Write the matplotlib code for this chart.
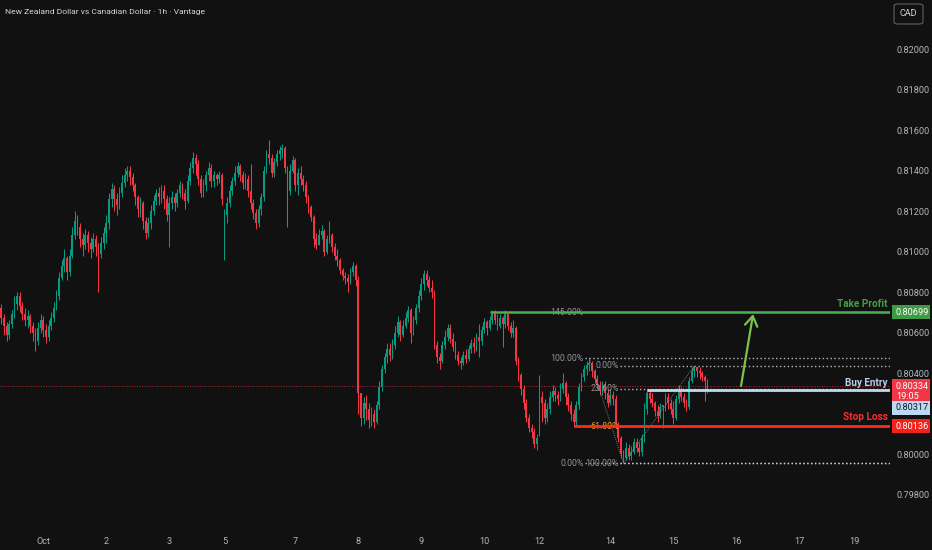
import matplotlib
matplotlib.use("Agg")
import matplotlib.pyplot as plt
import matplotlib.transforms as mtransforms
from matplotlib.patches import Rectangle, FancyBboxPatch
from matplotlib import font_manager as fm

# ---------------- data ----------------
title = "New Zealand Dollar vs Canadian Dollar · 1h · Vantage"

opens = [
 0.8072,0.8067,0.8063,0.8059,0.8064,0.8069,0.8074,0.8078,0.8073,0.8069,
 0.8066,0.8068,0.8063,0.8060,0.8056,0.8062,0.8066,0.8061,0.8058,0.8063,
 0.8067,0.8072,0.8078,0.8087,0.8093,0.8097,0.8090,0.8098,0.8108,0.8115,
 0.8112,0.8106,0.8103,0.8108,0.8104,0.8101,0.8106,0.8102,0.8099,0.8104,
 0.8109,0.8114,0.8126,0.8131,0.8126,0.8123,0.8129,0.8134,0.8138,0.8140,
 0.8137,0.8133,0.8127,0.8121,0.8124,0.8115,0.8109,0.8114,0.8120,0.8125,
 0.8129,0.8127,0.8130,0.8126,0.8118,0.8124,0.8127,0.8124,0.8129,0.8133,
 0.8129,0.8125,0.8135,0.8141,0.8146,0.8143,0.8136,0.8129,0.8133,0.8138,
 0.8141,0.8135,0.8138,0.8136,0.8138,0.8108,0.8118,0.8124,0.8130,0.8135,
 0.8139,0.8142,0.8138,0.8134,0.8136,0.8130,0.8124,0.8119,0.8114,0.8121,
 0.8127,0.8140,0.8148,0.8146,0.8139,0.8144,0.8148,0.8150,0.8151,0.8141,
 0.8130,0.8140,0.8145,0.8133,0.8139,0.8136,0.8133,0.8127,0.8122,0.8117,
 0.8106,0.8103,0.8108,0.8110,0.8100,0.8106,0.8108,0.8102,0.8098,0.8096,
 0.8091,0.8088,0.8087,0.8085,0.8090,0.8093,0.8086,0.8030,0.8018,0.8025,
 0.8022,0.8017,0.8020,0.8016,0.8024,0.8033,0.8042,0.8048,0.8052,0.8049,
 0.8054,0.8060,0.8065,0.8059,0.8063,0.8067,0.8071,0.8060,0.8066,0.8072,
 0.8078,0.8084,0.8089,0.8086,0.8082,0.8080,0.8054,0.8048,0.8046,0.8054,
 0.8058,0.8062,0.8057,0.8053,0.8049,0.8046,0.8045,0.8049,0.8047,0.8052,
 0.8055,0.8053,0.8058,0.8056,0.8061,0.8065,0.8062,0.8066,0.8069,0.8066,
 0.8063,0.8067,0.8064,0.8069,0.8063,0.8060,0.8062,0.8046,0.8039,0.8032,
 0.8025,0.8018,0.8013,0.8011,0.8005,0.8012,0.8028,0.8025,0.8018,0.8022,
 0.8028,0.8031,0.8029,0.8027,0.8032,0.8035,0.8028,0.8024,0.8020,0.8016,
 0.8024,0.8033,0.8038,0.8042,0.8044,0.8045,0.8041,0.8037,0.8034,0.8031,
 0.8034,0.8030,0.8025,0.8029,0.8027,0.8015,0.8008,0.8000,0.7998,0.8003,
 0.7999,0.8001,0.8006,0.8003,0.8001,0.8008,0.8022,0.8030,0.8027,0.8025,
 0.8021,0.8019,0.8023,0.8024,0.8028,0.8025,0.8022,0.8018,0.8027,0.8031,
 0.8028,0.8025,0.8023,0.8036,0.8041,0.8043,0.8041,0.8040,0.8038,0.8036,
]
highs = [
 0.8074,0.8069,0.8065,0.8066,0.8071,0.8078,0.8080,0.8080,0.8075,0.8072,
 0.8071,0.8069,0.8065,0.8062,0.8065,0.8069,0.8068,0.8064,0.8066,0.8070,
 0.8075,0.8081,0.8090,0.8096,0.8101,0.8098,0.8101,0.8112,0.8120,0.8118,
 0.8114,0.8109,0.8111,0.8110,0.8107,0.8109,0.8108,0.8104,0.8107,0.8112,
 0.8118,0.8129,0.8134,0.8133,0.8129,0.8132,0.8138,0.8141,0.8142,0.8142,
 0.8139,0.8134,0.8128,0.8127,0.8125,0.8117,0.8117,0.8123,0.8128,0.8131,
 0.8132,0.8133,0.8133,0.8128,0.8127,0.8130,0.8129,0.8131,0.8135,0.8134,
 0.8131,0.8138,0.8144,0.8149,0.8148,0.8145,0.8138,0.8136,0.8140,0.8144,
 0.8143,0.8140,0.8139,0.8140,0.8139,0.8121,0.8127,0.8133,0.8137,0.8142,
 0.8144,0.8143,0.8140,0.8139,0.8138,0.8143,0.8126,0.8121,0.8123,0.8129,
 0.8142,0.8150,0.8155,0.8148,0.8146,0.8150,0.8152,0.8153,0.8152,0.8142,
 0.8143,0.8147,0.8146,0.8141,0.8142,0.8138,0.8135,0.8128,0.8123,0.8118,
 0.8109,0.8111,0.8113,0.8111,0.8108,0.8115,0.8109,0.8104,0.8101,0.8097,
 0.8092,0.8090,0.8089,0.8092,0.8095,0.8094,0.8088,0.8030,0.8028,0.8029,
 0.8025,0.8023,0.8022,0.8026,0.8036,0.8044,0.8050,0.8055,0.8055,0.8057,
 0.8063,0.8068,0.8066,0.8066,0.8070,0.8073,0.8072,0.8068,0.8074,0.8081,
 0.8087,0.8091,0.8091,0.8088,0.8086,0.8081,0.8056,0.8050,0.8056,0.8061,
 0.8064,0.8064,0.8060,0.8056,0.8051,0.8048,0.8051,0.8052,0.8054,0.8057,
 0.8058,0.8060,0.8064,0.8063,0.8067,0.8066,0.8068,0.8071,0.8071,0.8069,
 0.8069,0.8068,0.8071,0.8069,0.8065,0.8066,0.8063,0.8048,0.8040,0.8034,
 0.8027,0.8020,0.8015,0.8013,0.8010,0.8039,0.8031,0.8027,0.8025,0.8031,
 0.8034,0.8033,0.8031,0.8035,0.8040,0.8036,0.8030,0.8026,0.8022,0.8026,
 0.8035,0.8040,0.8044,0.8046,0.80474,0.8046,0.8042,0.8039,0.8036,0.8036,
 0.8036,0.8032,0.8032,0.8031,0.8029,0.8016,0.8009,0.8002,0.8006,0.8005,
 0.8004,0.8008,0.8008,0.8006,0.8010,0.8025,0.8032,0.8032,0.8030,0.8026,
 0.8024,0.8025,0.8024,0.8030,0.8030,0.8027,0.8026,0.8029,0.8034,0.8033,
 0.8030,0.8027,0.8038,0.8043,0.80435,0.8043,0.8043,0.8041,0.8039,0.8037,
]
lows = [
 0.8064,0.8059,0.8056,0.8057,0.8062,0.8067,0.8071,0.8070,0.8066,0.8063,
 0.8062,0.8060,0.8056,0.8051,0.8054,0.8060,0.8058,0.8055,0.8056,0.8061,
 0.8065,0.8071,0.8076,0.8086,0.8090,0.8086,0.8088,0.8097,0.8106,0.8108,
 0.8102,0.8098,0.8101,0.8100,0.8097,0.8100,0.8098,0.8080,0.8097,0.8101,
 0.8104,0.8111,0.8122,0.8120,0.8118,0.8121,0.8127,0.8132,0.8135,0.8133,
 0.8130,0.8123,0.8117,0.8117,0.8111,0.8106,0.8107,0.8111,0.8118,0.8123,
 0.8123,0.8124,0.8121,0.8115,0.8102,0.8121,0.8120,0.8122,0.8127,0.8126,
 0.8121,0.8124,0.8133,0.8139,0.8138,0.8133,0.8127,0.8127,0.8130,0.8135,
 0.8132,0.8132,0.8133,0.8134,0.8123,0.8096,0.8114,0.8122,0.8128,0.8133,
 0.8137,0.8135,0.8131,0.8131,0.8127,0.8121,0.8116,0.8111,0.8112,0.8118,
 0.8125,0.8139,0.8143,0.8137,0.8137,0.8142,0.8145,0.8146,0.8139,0.8112,
 0.8128,0.8139,0.8130,0.8128,0.8133,0.8130,0.8124,0.8119,0.8115,0.8102,
 0.8101,0.8103,0.8106,0.8098,0.8099,0.8104,0.8100,0.8096,0.8093,0.8089,
 0.8086,0.8084,0.8080,0.8084,0.8088,0.8083,0.8020,0.8014,0.8015,0.8017,
 0.8013,0.8014,0.8013,0.8015,0.8022,0.8031,0.8040,0.8045,0.8046,0.8047,
 0.8052,0.8058,0.8056,0.8058,0.8062,0.8065,0.8055,0.8059,0.8064,0.8070,
 0.8076,0.8081,0.8083,0.8080,0.8077,0.8052,0.8045,0.8042,0.8045,0.8052,
 0.8056,0.8055,0.8051,0.8047,0.8044,0.8042,0.8044,0.8045,0.8046,0.8050,
 0.8050,0.8051,0.8048,0.8054,0.8060,0.8059,0.8061,0.8064,0.8064,0.8061,
 0.8062,0.8053,0.8062,0.8061,0.8058,0.8058,0.8044,0.8036,0.8029,0.8022,
 0.8016,0.8011,0.8008,0.8003,0.8002,0.8009,0.8016,0.8015,0.8016,0.8020,
 0.8026,0.8026,0.8024,0.8026,0.8030,0.8024,0.8021,0.8017,0.80133,0.8014,
 0.8022,0.8031,0.8036,0.8039,0.8041,0.8038,0.8035,0.8032,0.8029,0.8029,
 0.8027,0.8023,0.8024,0.8024,0.8013,0.8006,0.7998,0.79955,0.7997,0.7997,
 0.7997,0.8000,0.8001,0.7999,0.7999,0.8006,0.8020,0.8025,0.8023,0.8019,
 0.8016,0.8018,0.8013,0.8021,0.8022,0.8020,0.8015,0.8017,0.8025,0.8026,
 0.8023,0.8021,0.8022,0.8035,0.8038,0.8038,0.8037,0.8036,0.8026,0.8030,
]
closes = [
 0.8067,0.8063,0.8059,0.8064,0.8069,0.8074,0.8078,0.8073,0.8069,0.8066,
 0.8068,0.8063,0.8060,0.8056,0.8062,0.8066,0.8061,0.8058,0.8063,0.8067,
 0.8072,0.8078,0.8087,0.8093,0.8097,0.8090,0.8098,0.8108,0.8115,0.8112,
 0.8106,0.8103,0.8108,0.8104,0.8101,0.8106,0.8102,0.8099,0.8104,0.8109,
 0.8114,0.8126,0.8131,0.8126,0.8123,0.8129,0.8134,0.8138,0.8140,0.8137,
 0.8133,0.8127,0.8121,0.8124,0.8115,0.8109,0.8114,0.8120,0.8125,0.8129,
 0.8127,0.8130,0.8126,0.8118,0.8124,0.8127,0.8124,0.8129,0.8133,0.8129,
 0.8125,0.8135,0.8141,0.8146,0.8143,0.8136,0.8129,0.8133,0.8138,0.8141,
 0.8135,0.8138,0.8136,0.8138,0.8126,0.8118,0.8124,0.8130,0.8135,0.8139,
 0.8142,0.8138,0.8134,0.8136,0.8130,0.8124,0.8119,0.8114,0.8121,0.8127,
 0.8140,0.8148,0.8146,0.8139,0.8144,0.8148,0.8150,0.8151,0.8141,0.8130,
 0.8140,0.8145,0.8133,0.8139,0.8136,0.8133,0.8127,0.8122,0.8117,0.8106,
 0.8103,0.8108,0.8110,0.8100,0.8106,0.8108,0.8102,0.8098,0.8096,0.8091,
 0.8088,0.8087,0.8085,0.8090,0.8093,0.8086,0.8030,0.8018,0.8025,0.8022,
 0.8017,0.8020,0.8016,0.8024,0.8033,0.8042,0.8048,0.8052,0.8049,0.8054,
 0.8060,0.8065,0.8059,0.8063,0.8067,0.8071,0.8060,0.8066,0.8072,0.8078,
 0.8084,0.8089,0.8086,0.8082,0.8080,0.8054,0.8048,0.8046,0.8054,0.8058,
 0.8062,0.8057,0.8053,0.8049,0.8046,0.8045,0.8049,0.8047,0.8052,0.8055,
 0.8053,0.8058,0.8056,0.8061,0.8065,0.8062,0.8066,0.8069,0.8066,0.8063,
 0.8067,0.8064,0.8069,0.8063,0.8060,0.8062,0.8046,0.8039,0.8032,0.8025,
 0.8018,0.8013,0.8011,0.8005,0.8008,0.8028,0.8025,0.8018,0.8022,0.8028,
 0.8031,0.8029,0.8027,0.8032,0.8035,0.8028,0.8024,0.8020,0.8016,0.8024,
 0.8033,0.8038,0.8042,0.8044,0.8045,0.8041,0.8037,0.8034,0.8031,0.8034,
 0.8030,0.8025,0.8029,0.8027,0.8015,0.8008,0.8000,0.7998,0.8003,0.7999,
 0.8001,0.8006,0.8003,0.8001,0.8008,0.8022,0.8030,0.8027,0.8025,0.8021,
 0.8019,0.8023,0.8024,0.8028,0.8025,0.8022,0.8018,0.8027,0.8031,0.8028,
 0.8025,0.8023,0.8036,0.8041,0.8043,0.8041,0.8040,0.8038,0.8036,0.80334,
]

x_tick_bars = [16, 40, 64, 85, 112, 136, 160, 184, 205, 232, 256, 280, 304, 325]
x_tick_labels = ["Oct", "2", "3", "5", "7", "8", "9", "10", "12", "14", "15", "16", "17", "19"]
price_ticks = [0.798, 0.800, 0.802, 0.804, 0.806, 0.808, 0.810, 0.812, 0.814, 0.816, 0.818, 0.820]
hidden_ticks = [0.802]  # covered by the price tags in the reference

take_profit = 0.80699
buy_entry = 0.80317
stop_loss = 0.80136
last_price = 0.80334
countdown = "19:05"

# fib 1 (swing high -> swing low, extension to 145%)
fib1_prices = [0.79955, 0.80474, 0.80699]
fib1_labels = ["0.00%", "100.00%", "145.00%"]
fib1_anchor = [(224, 0.80474), (237, 0.79955)]
# fib 2 (retracement)
fib2_prices = [0.80435, 0.80322, 0.80138, 0.79955]
fib2_labels = ["0.00%", "23.60%", "61.80%", "100.00%"]
fib2_anchor = [(237, 0.79955), (264, 0.80435)]

tp_start, sl_start, be_start = 186.2, 218.2, 246.0
fib1_start, fib2_start = 222.4, 235.7
arrow_from = (281.8, 0.80336)
arrow_to = (286.4, 0.80691)

# ---------------- style ----------------
BG = "#111111"
UP = "#089981"
DN = "#f23645"
AXTXT = "#b2b5be"

names = {f.name for f in fm.fontManager.ttflist}
FONT = "Liberation Sans Narrow" if "Liberation Sans Narrow" in names else "Roboto"
plt.rcParams["font.family"] = [FONT, "DejaVu Sans"]

fig = plt.figure(figsize=(9.32, 5.5), dpi=100, facecolor=BG)
ax = fig.add_axes([0, 25 / 550, 890 / 932, 525 / 550])
ax.set_facecolor(BG)
for s in ax.spines.values():
    s.set_visible(False)

xmin, xmax = -0.495, 338.55
ymin, ymax = 0.796494, 0.822420
ax.set_xlim(xmin, xmax)
ax.set_ylim(ymin, ymax)
dpp = (ymax - ymin) / 525.0  # price per pixel

# candles
n = len(closes)
xs = list(range(n))
cols = [UP if c >= o else DN for o, c in zip(opens, closes)]
ax.vlines(xs, lows, highs, colors=cols, linewidth=0.75, zorder=3)
bottoms = [min(o, c) for o, c in zip(opens, closes)]
heights = [max(abs(c - o), 0.6 * dpp) for o, c in zip(opens, closes)]
ax.bar(xs, heights, bottom=bottoms, width=0.68, color=cols, linewidth=0, zorder=4)

# current price dotted line
ax.hlines(last_price, xmin, xmax, colors=DN, linestyles=(0, (1, 1.6)), linewidth=0.7, alpha=0.7, zorder=2)

# fib levels
DOT = (0, (1, 1.8))
for p, lab in zip(fib1_prices, fib1_labels):
    ax.hlines(p, fib1_start, xmax, colors="#d1d4dc", linestyles=DOT, linewidth=1.0, alpha=0.85, zorder=5)
    ax.text(fib1_start - 0.6, p, lab, ha="right", va="center", fontsize=6.3, color="#8f929b", zorder=6)
for p, lab in zip(fib2_prices, fib2_labels):
    ax.hlines(p, fib2_start, xmax, colors="#d1d4dc", linestyles=DOT, linewidth=1.0, alpha=0.85, zorder=5)
    c = "#e8a21c" if lab == "61.80%" else "#8f929b"
    ax.text(fib2_start - 0.4, p, lab, ha="right", va="center", fontsize=6.3, color=c, zorder=6)
for anc in (fib1_anchor, fib2_anchor):
    ax.plot([anc[0][0], anc[1][0]], [anc[0][1], anc[1][1]], color="#9598a1",
            linestyle=(0, (1, 1.5)), linewidth=0.6, zorder=5)

# trade lines
ax.hlines(take_profit, tp_start, xmax, colors="#4caf50", linewidth=1.8, zorder=7)
ax.hlines(stop_loss, sl_start, xmax, colors="#ff2a1f", linewidth=2.0, zorder=7)
ax.hlines(buy_entry, be_start, xmax, colors="#c0d8ef", linewidth=2.0, zorder=7)

tx = xmax - 0.8
ax.text(tx, take_profit + 8 * dpp, "Take Profit", ha="right", va="center", fontsize=7.2,
        color="#43a047", fontweight="bold", zorder=8)
ax.text(tx, buy_entry + 7 * dpp, "Buy Entry", ha="right", va="center", fontsize=7.2,
        color="#b7cfe8", fontweight="bold", zorder=8)
ax.text(tx, stop_loss + 9 * dpp, "Stop Loss", ha="right", va="center", fontsize=7.2,
        color="#ff2d2d", fontweight="bold", zorder=8)

# arrow
ax.annotate("", xy=arrow_to, xytext=arrow_from,
            arrowprops=dict(arrowstyle="->,head_length=0.7,head_width=0.45",
                            color="#7cc24a", linewidth=1.6, shrinkA=0, shrinkB=0), zorder=8)

# axes ticks
ax.yaxis.tick_right()
ax.set_yticks(price_ticks)
ax.set_yticklabels(["" if p in hidden_ticks else f"{p:.5f}" for p in price_ticks])
ax.tick_params(axis="y", length=0, pad=4.5, labelsize=6.6, labelcolor=AXTXT)
ax.set_xticks(x_tick_bars)
ax.set_xticklabels(x_tick_labels)
ax.tick_params(axis="x", length=0, pad=8.5, labelsize=6.6, labelcolor=AXTXT)

# price tags on the scale
btr = mtransforms.blended_transform_factory(ax.transAxes, ax.transData)
tag_x0 = 892 / 890
tag_w = 38 / 890
txt_x = 896 / 890

def tag(center, top_px, bot_px, fc, lines, tc):
    r = Rectangle((tag_x0, center - bot_px * dpp), tag_w, (top_px + bot_px) * dpp,
                  transform=btr, facecolor=fc, edgecolor="none", clip_on=False, zorder=20)
    ax.add_patch(r)
    for k, (txt, off) in enumerate(lines):
        ax.text(txt_x, center + off * dpp, txt, transform=btr, ha="left", va="center",
                fontsize=6.6, color=tc, clip_on=False, zorder=21)

tag(take_profit, 7, 7, "#3f9b43", [(f"{take_profit:.5f}", 0)], "white")
tag(last_price, 7, 16, "#f23645", [(f"{last_price:.5f}", 0), (countdown, -10)], "white")
tag(buy_entry, -11, 25, "#bbd9f2", [(f"{buy_entry:.5f}", -18)], "#131722")
tag(stop_loss, 7, 7, "#f5221c", [(f"{stop_loss:.5f}", 0)], "white")

# title & currency box
fig.text(5 / 932, 1 - 12 / 550, title, ha="left", va="center", fontsize=6.1, color="#d1d4dc")
box = FancyBboxPatch((894 / 932, 1 - 24 / 550), 29 / 932, 20 / 550,
                     boxstyle="round,pad=0,rounding_size=0.004", transform=fig.transFigure,
                     facecolor=BG, edgecolor="#5d606b", linewidth=0.8)
fig.patches.append(box)
fig.text(908.5 / 932, 1 - 14 / 550, "CAD", ha="center", va="center", fontsize=6.5, color="#d1d4dc")

fig.savefig("out.png", dpi=100, facecolor=BG)
